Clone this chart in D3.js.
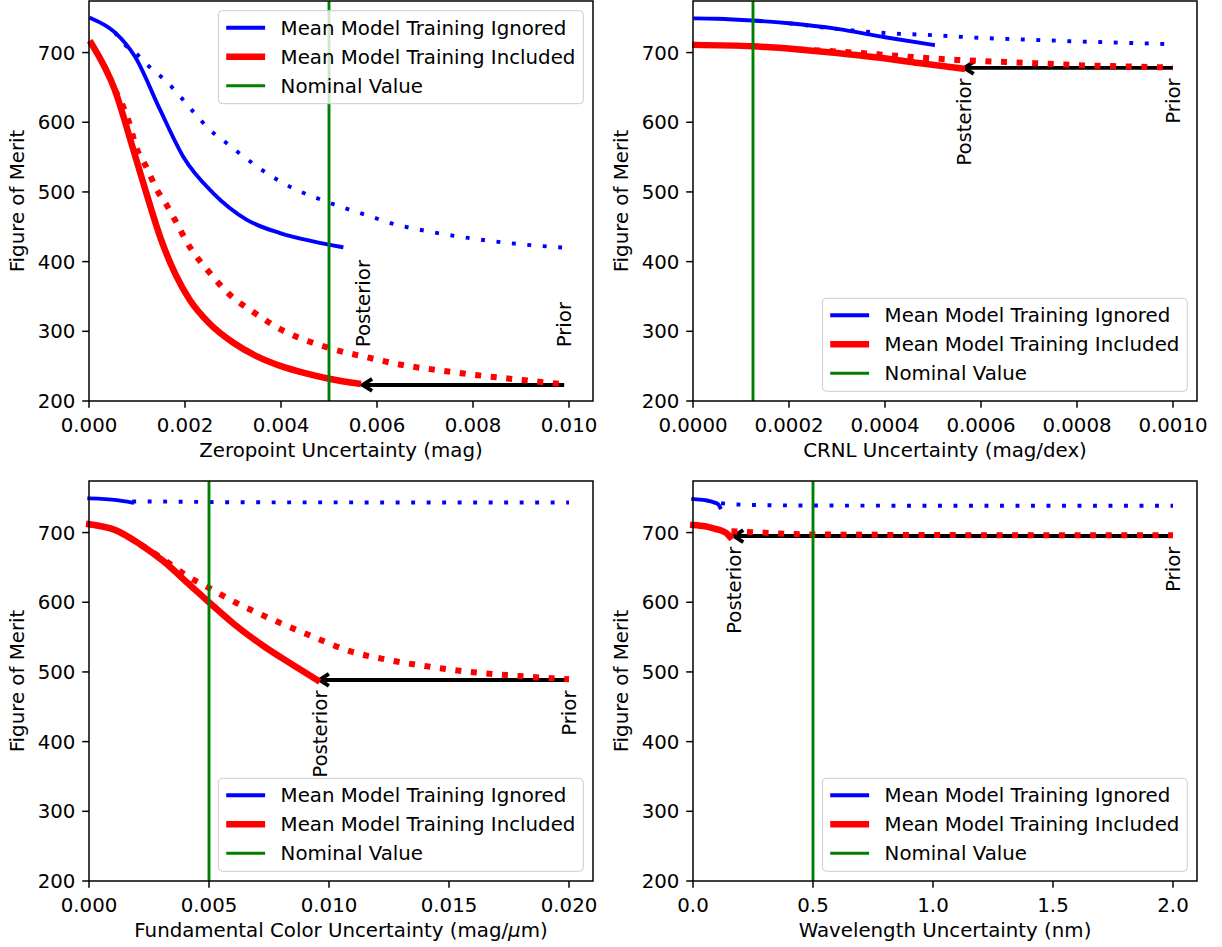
<!DOCTYPE html>
<html>
<head>
<meta charset="utf-8">
<script src="https://cdn.jsdelivr.net/npm/d3@7"></script>
<style>
body { margin: 0; background: #fff; }
text { font-family: "DejaVu Sans", sans-serif; fill: #000; }
</style>
</head>
<body>
<script>
//Width and height
var w = 1222;
var h = 947;

// ---- values ----
// Zeropoint panel  [x, figure of merit]
var zpIgnoredPost = [[0.00005,749],[0.00054,729],[0.00096,694],[0.00148,618],[0.00196,551],[0.00259,498],[0.00329,460],[0.00398,441],[0.00467,429],[0.00526,421]];
var zpIgnoredPrior = [[0.00054,729],[0.00072,713],[0.00096,700],[0.0013,677],[0.00162,658],[0.0019,637],[0.0022,613],[0.00249,591],[0.00283,572],[0.00318,553],[0.0037,527],[0.00426,505],[0.00495,486],[0.0059,464],[0.0063,455],[0.0071,443],[0.0079,434],[0.0087,427],[0.0099,420]];
var zpIncludedPost = [[0.00005,713],[0.00054,646],[0.0009,566],[0.0012,497],[0.0015,432],[0.0018,382],[0.0021,345],[0.0025,312],[0.003,284],[0.0035,264],[0.004,250],[0.0045,240],[0.005,232],[0.0056,225]];
var zpIncludedPrior = [[0.00054,646],[0.00065,632],[0.00082,603],[0.00099,563],[0.00117,539],[0.00144,500],[0.00162,481],[0.00179,460],[0.0021,421],[0.00249,386],[0.00294,352],[0.00346,326],[0.00407,300],[0.0046,285],[0.005,276],[0.0059,261],[0.0065,252],[0.0073,244],[0.0081,237],[0.0089,231],[0.0099,224]];
var zpNominal = 0.005;
var zpPrior = [0.0099, 223];
var zpPosterior = [0.0057, 223];
var zpTicks = [0, 0.002, 0.004, 0.006, 0.008, 0.010];

// CRNL panel
var crnlIgnoredPost = [[0.000005,749],[0.00005,748.5],[0.000124,746],[0.0002,742],[0.0003,734],[0.0004,722],[0.0005,711]];
var crnlIgnoredPrior = [[0.0002,742],[0.0003,734],[0.0004,728],[0.0005,725],[0.0006,721],[0.0007,718.5],[0.0008,716],[0.0009,714],[0.001,712]];
var crnlIncludedPost = [[0.000005,711],[0.000124,709],[0.00022,704.5],[0.0003,699.5],[0.000385,693],[0.00047,685],[0.00056,677]];
var crnlIncludedPrior = [[0.00022,704.5],[0.0003,701.5],[0.000385,697.5],[0.00047,693],[0.00055,689.5],[0.00063,687],[0.00072,684.5],[0.0008,682],[0.00088,680.5],[0.001,678.5]];
var crnlNominal = 0.000125;
var crnlPrior = [0.001, 678];
var crnlPosterior = [0.000565, 678];
var crnlTicks = [0, 0.0002, 0.0004, 0.0006, 0.0008, 0.0010];

// Fundamental color panel
var colIgnoredPost = [[0.00001,749],[0.00117,746.5],[0.0018,743]];
var colIgnoredPrior = [[0.0018,744.5],[0.0028,744.5],[0.006,743.5],[0.01,743.3],[0.015,743.2],[0.02,743.2]];
var colIncludedPost = [[0.00001,712],[0.0011,703.5],[0.00214,683],[0.0031,659],[0.0041,628],[0.005,600],[0.006,570],[0.0073,536.5],[0.0085,510],[0.0095,488.5]];
var colIncludedPrior = [[0.00214,683],[0.0031,661.5],[0.0041,637.5],[0.005,620.5],[0.006,601.5],[0.00765,575],[0.0093,551],[0.0109,529.5],[0.0125,517],[0.0141,508],[0.01575,500.5],[0.0174,495.5],[0.02,489.5]];
var colNominal = 0.005;
var colPrior = [0.02, 488.5];
var colPosterior = [0.0096, 488.5];
var colTicks = [0, 0.005, 0.010, 0.015, 0.020];

// Wavelength panel
var wlIgnoredPost = [[0.001,748],[0.05,746.5],[0.09,743],[0.105,740.5],[0.113,736]];
var wlIgnoredPrior = [[0.117,742],[0.2,740],[0.4,739],[0.8,738.6],[1.2,738.5],[1.6,738.5],[2.0,738.5]];
var wlIncludedPost = [[0.001,711],[0.05,709],[0.0846,706],[0.12,702.5],[0.14,699],[0.154,694]];
var wlIncludedPrior = [[0.16,702],[0.22,701],[0.286,700],[0.4,698],[0.6,697],[1.0,696.5],[1.5,696],[2.0,696]];
var wlNominal = 0.5;
var wlPrior = [2.0, 695];
var wlPosterior = [0.17, 695];
var wlTicks = [0, 0.5, 1.0, 1.5, 2.0];

var fomTicks = [200, 300, 400, 500, 600, 700];
var legendLabels = ["Mean Model Training Ignored", "Mean Model Training Included", "Nominal Value"];

// ---- layout ----
var fs = 19.8;          // 10pt font at this dpi
var pw = 504, ph = 400; // axes size
var yDomain = [200, 774];

var panels = [
  {left: 89,  top: 1,   xmax: 0.0105,  ticks: zpTicks,   fmt: ".3f", xlabel: "Zeropoint Uncertainty (mag)",
   ip: zpIgnoredPost, ir: zpIgnoredPrior, np: zpIncludedPost, nr: zpIncludedPrior,
   nominal: zpNominal, prior: zpPrior, posterior: zpPosterior, legend: "upper", labels: "above"},
  {left: 693, top: 1,   xmax: 0.00105, ticks: crnlTicks, fmt: ".4f", xlabel: "CRNL Uncertainty (mag/dex)",
   ip: crnlIgnoredPost, ir: crnlIgnoredPrior, np: crnlIncludedPost, nr: crnlIncludedPrior,
   nominal: crnlNominal, prior: crnlPrior, posterior: crnlPosterior, legend: "lower", labels: "below"},
  {left: 89,  top: 481, xmax: 0.021,   ticks: colTicks,  fmt: ".3f", xlabel: "Fundamental Color Uncertainty (mag/",
   mu: true,
   ip: colIgnoredPost, ir: colIgnoredPrior, np: colIncludedPost, nr: colIncludedPrior,
   nominal: colNominal, prior: colPrior, posterior: colPosterior, legend: "lower", labels: "below"},
  {left: 693, top: 481, xmax: 2.1,     ticks: wlTicks,   fmt: ".1f", xlabel: "Wavelength Uncertainty (nm)",
   ip: wlIgnoredPost, ir: wlIgnoredPrior, np: wlIncludedPost, nr: wlIncludedPrior,
   nominal: wlNominal, prior: wlPrior, posterior: wlPosterior, legend: "lower", labels: "below"}
];

//Create SVG element
var svg = d3.select("body")
            .append("svg")
            .attr("width", w)
            .attr("height", h)
            .style("display", "block");

panels.forEach(function(p) {
    var g = svg.append("g");

    var xScale = d3.scaleLinear()
                   .domain([0, p.xmax])
                   .range([p.left, p.left + pw]);
    var yScale = d3.scaleLinear()
                   .domain(yDomain)
                   .range([p.top + ph, p.top]);

    var line = d3.line()
                 .x(function(d) { return xScale(d[0]); })
                 .y(function(d) { return yScale(d[1]); })
                 .curve(d3.curveMonotoneX);

    // prior -> posterior arrow
    var ax0 = xScale(p.prior[0]), ax1 = xScale(p.posterior[0]), ay = yScale(p.prior[1]);
    g.append("path")
     .attr("d", "M" + ax0 + "," + ay + "L" + ax1 + "," + ay)
     .attr("stroke", "black").attr("stroke-width", 3.9).attr("fill", "none");
    g.append("path")
     .attr("d", "M" + (ax1 + 9.5) + "," + (ay - 6) + "L" + ax1 + "," + ay + "L" + (ax1 + 9.5) + "," + (ay + 6))
     .attr("stroke", "black").attr("stroke-width", 3.9).attr("fill", "none")
     .attr("stroke-linejoin", "miter");

    // curves
    var series = [
        {data: p.ip, color: "blue", width: 3.9, dash: null},
        {data: p.ir, color: "blue", width: 3.9, dash: "3.9,11.6"},
        {data: p.np, color: "red",  width: 6.5, dash: null},
        {data: p.nr, color: "red",  width: 6,   dash: "6,9.6"}
    ];
    g.selectAll("path.curve")
     .data(series)
     .enter()
     .append("path")
     .attr("class", "curve")
     .attr("d", function(d) { return line(d.data); })
     .attr("fill", "none")
     .attr("stroke", function(d) { return d.color; })
     .attr("stroke-width", function(d) { return d.width; })
     .attr("stroke-dasharray", function(d) { return d.dash; })
     .attr("stroke-linecap", function(d) { return d.dash ? "butt" : "square"; })
     .attr("stroke-linejoin", "round");

    // nominal value
    g.append("line")
     .attr("x1", xScale(p.nominal)).attr("x2", xScale(p.nominal))
     .attr("y1", p.top).attr("y2", p.top + ph)
     .attr("stroke", "green").attr("stroke-width", 2.9);

    // Posterior / Prior labels (rotated)
    var marks = [{t: "Posterior", x: p.posterior[0]}, {t: "Prior", x: p.prior[0]}];
    g.selectAll("text.mark")
     .data(marks)
     .enter()
     .append("text")
     .attr("class", "mark")
     .attr("font-size", fs)
     .attr("text-anchor", p.labels == "above" ? "start" : "end")
     .attr("dy", "0.36em")
     .attr("transform", function(d) {
        var yy = p.labels == "above" ? yScale(p.prior[1] + 54) : yScale(p.prior[1] - 15);
        return "translate(" + xScale(d.x) + "," + yy + ") rotate(-90)";
     })
     .text(function(d) { return d.t; });

    // spines
    g.append("rect")
     .attr("x", p.left).attr("y", p.top)
     .attr("width", pw).attr("height", ph)
     .attr("fill", "none").attr("stroke", "black").attr("stroke-width", 1.5);

    // x ticks
    var xt = g.selectAll("g.xtick")
              .data(p.ticks)
              .enter()
              .append("g")
              .attr("class", "xtick")
              .attr("transform", function(d) { return "translate(" + xScale(d) + "," + (p.top + ph) + ")"; });
    xt.append("line").attr("y2", 6.8).attr("stroke", "black").attr("stroke-width", 1.5);
    xt.append("text")
      .attr("y", 30.5)
      .attr("text-anchor", "middle")
      .attr("font-size", fs)
      .text(function(d) { return d3.format(p.fmt)(d); });

    // y ticks
    var yt = g.selectAll("g.ytick")
              .data(fomTicks)
              .enter()
              .append("g")
              .attr("class", "ytick")
              .attr("transform", function(d) { return "translate(" + p.left + "," + yScale(d) + ")"; });
    yt.append("line").attr("x2", -6.8).attr("stroke", "black").attr("stroke-width", 1.5);
    yt.append("text")
      .attr("x", -13.6)
      .attr("dy", "0.36em")
      .attr("text-anchor", "end")
      .attr("font-size", fs)
      .text(function(d) { return d; });

    // axis labels
    var xl = g.append("text")
              .attr("x", p.left + pw / 2)
              .attr("y", p.top + ph + 56)
              .attr("text-anchor", "middle")
              .attr("font-size", fs)
              .text(p.xlabel);
    if (p.mu) {
        xl.append("tspan").attr("font-style", "italic").text("\u03bc");
        xl.append("tspan").text("m)");
    }
    g.append("text")
     .attr("transform", "translate(" + (p.left - 65) + "," + (p.top + ph / 2) + ") rotate(-90)")
     .attr("text-anchor", "middle")
     .attr("font-size", fs)
     .text("Figure of Merit");

    // legend
    var lg = g.append("g");
    var box = lg.append("rect");
    var rows = [
        {label: legendLabels[0], color: "blue",  width: 3.9},
        {label: legendLabels[1], color: "red",   width: 6.5},
        {label: legendLabels[2], color: "green", width: 2.9}
    ];
    var boxH = 93;
    var boxY = p.legend == "upper" ? p.top + 9.7 : p.top + ph - 9.7 - boxH;
    var items = lg.selectAll("g.item")
                  .data(rows)
                  .enter()
                  .append("g")
                  .attr("class", "item")
                  .attr("transform", function(d, i) { return "translate(0," + (boxY + 17 + i * 29) + ")"; });
    var labels = items.append("text")
                      .attr("dy", "0.36em")
                      .attr("font-size", fs)
                      .text(function(d) { return d.label; });
    var maxLen = d3.max(labels.nodes(), function(n) { return n.getComputedTextLength(); });
    var boxW = 7.8 + 38.9 + 15.6 + maxLen + 7.8;
    var boxX = p.left + pw - 9.7 - boxW;
    box.attr("x", boxX).attr("y", boxY)
       .attr("width", boxW).attr("height", boxH)
       .attr("rx", 3.9).attr("ry", 3.9)
       .attr("fill", "white").attr("fill-opacity", 0.8)
       .attr("stroke", "#cccccc").attr("stroke-width", 1);
    items.append("line")
         .attr("x1", boxX + 7.8).attr("x2", boxX + 46.7)
         .attr("stroke", function(d) { return d.color; })
         .attr("stroke-width", function(d) { return d.width; });
    labels.attr("x", boxX + 62.2);
});
</script>
</body>
</html>
